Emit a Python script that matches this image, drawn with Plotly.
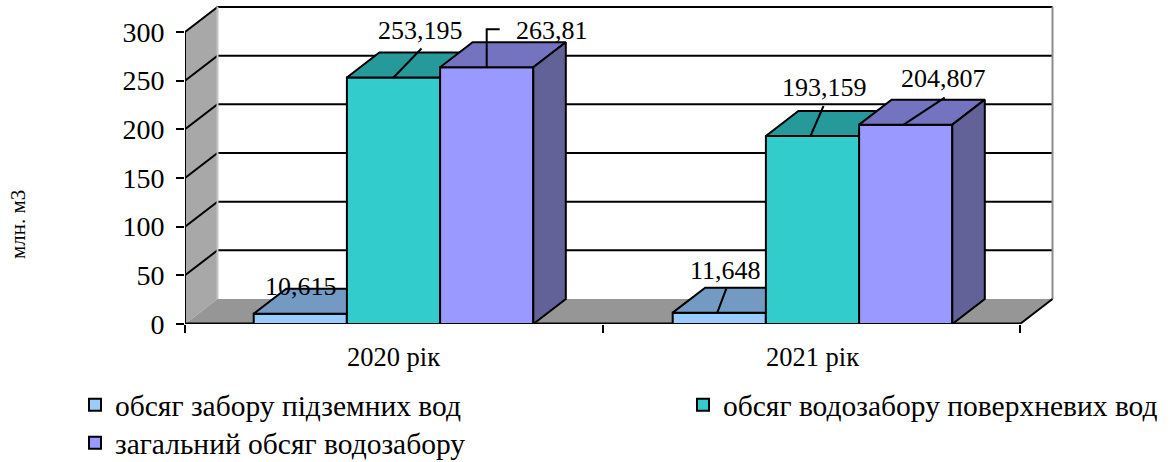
import plotly.graph_objects as go

# Chart data
categories = ["2020 рік", "2021 рік"]
series_names = [
    "обсяг забору підземних вод",
    "обсяг водозабору поверхневих вод",
    "загальний обсяг водозабору",
]
underground = [10.615, 11.648]
surface = [253.195, 193.159]
total = [263.81, 204.807]
label_text = [["10,615", "11,648"], ["253,195", "193,159"], ["263,81", "204,807"]]
y_ticks = [0, 50, 100, 150, 200, 250, 300]

# Pseudo-3D geometry: plot box in pixels and the depth of the box
LEFT, RIGHT, TOP, BOTTOM = 185, 1056, 3, 324
UNIT_X, UNIT_Y = 419, 292 / 300
DX, DY = 32.5 / UNIT_X, 25 / UNIT_Y
X0, X_END = -208.5 / UNIT_X, 1 + 207.5 / UNIT_X
X_MAX = X0 + (RIGHT - LEFT) / UNIT_X
Y_MAX = (BOTTOM - TOP) / UNIT_Y
BAR_W = 93.2 / UNIT_X
FONT = "Liberation Serif"
INK = "#000000"
STROKE = 2

FRONT = ["#99CCFF", "#33CCCC", "#9999FF"]
TOP_FACE = ["#739AC2", "#269A9A", "#7373BF"]
SIDE_FACE = ["#5C7A99", "#1F7A7A", "#626299"]
WALL = "#A8A8A8"
FLOOR = "#969696"

# Label anchor and leader shapes, as pixel offsets from the bar's front top centre
label_offsets = [
    [(1, 27), (6, 42)],
    [(27, 47), (12, 48)],
    [(65, 37), (38, 46)],
]
leader_paths = [
    [None, [(-2, 0), (7, 24)]],
    [[(0, 0), (28, 29)], [(-2, 0), (11, 30)]],
    [[(0, 0), (0, 38), (13, 38)], [(-2, 0), (39, 27)]],
]

fig = go.Figure()
values = [underground, surface, total]
suffix = ["", "2", "3"]
legend_ids = ["legend", "legend2", "legend3"]


def polygon(points, color, axis):
    """Add a filled, outlined face given as (x, y) axis coordinates."""
    xs = [p[0] for p in points] + [points[0][0]]
    ys = [p[1] for p in points] + [points[0][1]]
    fig.add_trace(go.Scatter(
        x=xs, y=ys, mode="lines", fill="toself", fillcolor=color,
        line=dict(color=INK, width=STROKE), showlegend=False, hoverinfo="skip",
        xaxis="x" + axis, yaxis="y" + axis,
    ))


# One overlaid axis pair per series keeps the front-to-back paint order
for i, series in enumerate(values):
    offset = (i - 1.5) * BAR_W
    fig.add_trace(go.Bar(
        x=list(range(len(categories))), y=series, width=BAR_W, offset=offset,
        name=series_names[i], marker=dict(color=FRONT[i], line=dict(color=INK, width=STROKE)),
        xaxis="x" + suffix[i], yaxis="y" + suffix[i],
        legend=legend_ids[i], hoverinfo="name+y",
    ))
    for c, v in enumerate(series):
        x1, x2 = c + offset, c + offset + BAR_W
        polygon([(x1, v), (x2, v), (x2 + DX, v + DY), (x1 + DX, v + DY)], TOP_FACE[i], suffix[i])
        polygon([(x2, 0), (x2, v), (x2 + DX, v + DY), (x2 + DX, DY)], SIDE_FACE[i], suffix[i])

# Leader lines from the bars to their value labels
annotations = []
for i, series in enumerate(values):
    for c, v in enumerate(series):
        cx = c + (i - 1) * BAR_W
        path = leader_paths[i][c]
        if path:
            fig.add_trace(go.Scatter(
                x=[cx + p[0] / UNIT_X for p in path], y=[v + p[1] / UNIT_Y for p in path],
                mode="lines", line=dict(color=INK, width=STROKE), showlegend=False,
                hoverinfo="skip", xaxis="x3", yaxis="y3", cliponaxis=False,
            ))
        sx, sy = label_offsets[i][c]
        annotations.append(dict(
            x=cx, y=v, xref="x", yref="y", xshift=sx, yshift=sy, text=label_text[i][c],
            showarrow=False, font=dict(family=FONT, size=26, color=INK),
        ))

annotations.append(dict(
    x=(18 - LEFT) / (RIGHT - LEFT), y=(BOTTOM - 225) / (BOTTOM - TOP), xref="paper", yref="paper",
    xanchor="center", yanchor="middle",
    text="млн. м3", textangle=-90, showarrow=False, font=dict(family=FONT, size=21, color=INK),
))

# Walls, floor and grid of the box, painted beneath every bar
shapes = []


def box_poly(points, fill):
    path = "M" + "L".join(f"{x},{y}" for x, y in points) + "Z"
    shapes.append(dict(type="path", path=path, fillcolor=fill, line=dict(width=0),
                       xref="x", yref="y", layer="below"))


def box_line(x1, y1, x2, y2, color=INK, width=STROKE):
    shapes.append(dict(type="line", x0=x1, y0=y1, x1=x2, y1=y2, xref="x", yref="y",
                       line=dict(color=color, width=width), layer="below"))


box_poly([(X0, 0), (X0 + DX, DY), (X0 + DX, 300 + DY), (X0, 300)], WALL)
box_poly([(X0, 0), (X_END, 0), (X_END + DX, DY), (X0 + DX, DY)], FLOOR)
for t in y_ticks[1:]:
    box_line(X0, t, X0 + DX, t + DY)
    box_line(X0 + DX, t + DY, X_END + DX, t + DY)
box_line(X_END + DX, DY, X_END + DX, 300 + DY, "#8C8C8C", 2)
box_line(X0 + DX, DY, X0 + DX, 300 + DY, "#C4C4C4", 2)
box_line(X0, 0, X0, 300)
box_line(X0, 0, X_END, 0, INK, 3)
box_line(X_END, 0, X_END + DX, DY)

hidden = dict(visible=False, fixedrange=True)


def legend_at(px, py):
    """A one-entry legend whose top-left corner sits at the given page position."""
    return dict(
        x=(px - LEFT) / (RIGHT - LEFT), y=(BOTTOM - py) / (BOTTOM - TOP),
        xanchor="left", yanchor="top", bgcolor="rgba(0,0,0,0)",
        font=dict(family=FONT, size=29.5, color=INK), itemclick=False, itemdoubleclick=False,
    )


fig.update_layout(
    width=1171, height=462,
    margin=dict(l=LEFT, r=1171 - RIGHT, t=TOP, b=462 - BOTTOM, autoexpand=False),
    paper_bgcolor="#FFFFFF", plot_bgcolor="#FFFFFF",
    font=dict(family=FONT, size=26, color=INK),
    shapes=shapes, annotations=annotations,
    xaxis=dict(
        range=[X0, X_MAX], showgrid=False, zeroline=False, showline=False,
        tickmode="array", tickvals=[0, 1], ticktext=categories, ticks="",
        ticklabelstandoff=14, tickfont=dict(family=FONT, size=26.5, color=INK),
        minor=dict(tickmode="array", tickvals=[X0, 0.5, X_END], ticks="outside",
                   ticklen=8, tickwidth=STROKE, tickcolor=INK),
    ),
    yaxis=dict(
        range=[0, Y_MAX], showgrid=False, zeroline=False, showline=False,
        tickmode="array", tickvals=y_ticks, ticks="outside", ticklen=8, tickwidth=STROKE,
        tickcolor=INK, ticklabelstandoff=6, tickfont=dict(family=FONT, size=28, color=INK),
    ),
    xaxis2=dict(range=[X0, X_MAX], overlaying="x", anchor="y2", **hidden),
    yaxis2=dict(range=[0, Y_MAX], overlaying="y", anchor="x2", **hidden),
    xaxis3=dict(range=[X0, X_MAX], overlaying="x", anchor="y3", **hidden),
    yaxis3=dict(range=[0, Y_MAX], overlaying="y", anchor="x3", **hidden),
    legend=legend_at(75, 379),
    legend2=legend_at(683, 379),
    legend3=legend_at(75, 417),
    showlegend=True,
)

fig.write_html("out.html")
